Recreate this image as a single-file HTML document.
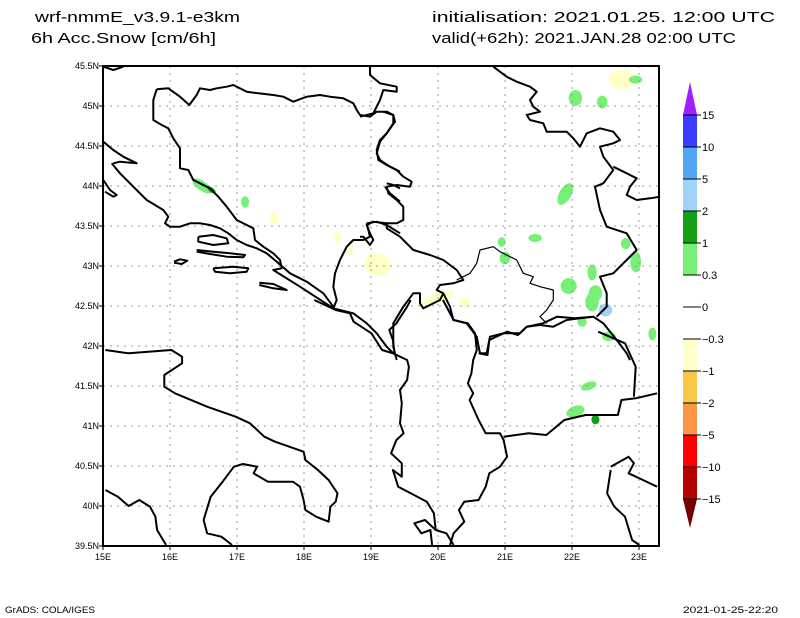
<!DOCTYPE html>
<html><head><meta charset="utf-8"><style>
html,body{margin:0;padding:0;background:#fff;}
svg{display:block;font-family:"Liberation Sans",sans-serif;}
</style></head><body>
<svg id="chart" width="800" height="618" viewBox="0 0 800 618" xmlns="http://www.w3.org/2000/svg">
<rect width="800" height="618" fill="#fff"/>
<g font-size="15" fill="#000">
<text x="35" y="22" textLength="205" lengthAdjust="spacingAndGlyphs">wrf-nmmE_v3.9.1-e3km</text>
<text x="31" y="43" textLength="185" lengthAdjust="spacingAndGlyphs">6h Acc.Snow [cm/6h]</text>
<text x="432" y="22" textLength="343" lengthAdjust="spacingAndGlyphs">initialisation: 2021.01.25.  12:00 UTC</text>
<text x="432" y="43" textLength="304" lengthAdjust="spacingAndGlyphs">valid(+62h): 2021.JAN.28 02:00 UTC</text>
</g>
<g id="blobs"></g>
<g id="grid"></g>
<g id="coast" fill="none" stroke="#000" stroke-width="2" stroke-linejoin="round"></g>
<rect x="103" y="66" width="556" height="480" fill="none" stroke="#000" stroke-width="2"/>
<g id="axes" font-size="9" fill="#000"></g>
<g id="cbar"></g>
<text x="5" y="613" font-size="9" textLength="90" lengthAdjust="spacingAndGlyphs">GrADS: COLA/IGES</text>
<text x="683" y="613" font-size="9" textLength="95" lengthAdjust="spacingAndGlyphs">2021-01-25-22:20</text>
</svg>
<script>
const lonTicks=[15,16,17,18,19,20,21,22,23];
const latTicks=[45.5,45,44.5,44,43.5,43,42.5,42,41.5,41,40.5,40,39.5];
const cbLevels=["15","10","5","2","1","0.3","0","-0.3","-1","-2","-5","-10","-15"];
const cbColors=["#3c3cff","#50a5f5","#a0d2fa","#14a014","#78f078","#ffffff","#ffffff","#ffffc8","#f5c846","#fa9646","#ff0000","#b40000"];
// snow blobs: lon, lat, rx(deg), ry(deg), rotation, value
const blobLon=[16.48,16.62,17.12,17.55,18.5,18.7,19.1,20.0,20.4,20.95,21.45,22.05,22.45,22.75,22.95,21.9,21.0,22.3,22.8,22.95,21.95,22.35,22.3,22.5,22.15,22.55,23.2,22.25,22.05,22.35];
const blobLat=[44.0,43.95,43.8,43.6,43.35,43.2,43.02,42.6,42.55,43.3,43.35,45.1,45.05,45.33,45.33,43.9,43.1,42.92,43.28,43.05,42.75,42.66,42.55,42.45,42.3,42.12,42.15,41.5,41.18,41.08];
const blobRx=[0.17,0.07,0.06,0.07,0.06,0.05,0.2,0.25,0.08,0.06,0.1,0.1,0.08,0.2,0.1,0.09,0.08,0.07,0.07,0.08,0.12,0.1,0.1,0.1,0.07,0.1,0.06,0.12,0.14,0.06];
const blobRy=[0.06,0.03,0.07,0.08,0.07,0.06,0.14,0.07,0.06,0.06,0.05,0.1,0.08,0.12,0.05,0.15,0.08,0.1,0.07,0.13,0.1,0.1,0.12,0.08,0.06,0.06,0.08,0.05,0.07,0.06];
const blobRot=[35,35,0,0,0,0,20,-20,0,0,0,0,0,0,0,30,0,0,0,0,0,0,0,0,0,0,0,-20,-20,0];
const blobVal=[0.5,1.5,0.5,-0.5,-0.5,-0.5,-0.5,-0.5,-0.5,0.5,0.5,0.5,0.5,-0.5,0.5,0.5,0.5,0.5,0.5,0.5,0.5,0.5,0.5,3,0.5,0.5,0.5,0.5,0.5,1.5];
const NS="http://www.w3.org/2000/svg";
const X0=103,Y0=66;
function xs(lon){return X0+(lon-15)*67;}
function ys(lat){return Y0+(45.5-lat)*80;}
function colorFor(v){
  if(v>=10)return cbColors[0]; if(v>=5)return cbColors[1]; if(v>=2)return cbColors[2];
  if(v>=1)return cbColors[3]; if(v>=0.3)return cbColors[4]; if(v>-0.3)return "#fff";
  if(v>-1)return cbColors[7]; if(v>-2)return cbColors[8]; if(v>-5)return cbColors[9];
  if(v>-10)return cbColors[10]; return cbColors[11];
}
function mk(tag,attrs,parent){const e=document.createElementNS(NS,tag);for(const k in attrs)e.setAttribute(k,attrs[k]);parent.appendChild(e);return e;}
// grid
const grid=document.getElementById('grid');
lonTicks.slice(1).forEach(l=>{const e=mk('line',{x1:xs(l),x2:xs(l),y1:Y0,y2:546,stroke:'#999','stroke-dasharray':'2,5','stroke-width':1},grid);

});
latTicks.slice(1,-1).forEach(l=>{const e=mk('line',{x1:X0,x2:659,y1:ys(l),y2:ys(l),stroke:'#999','stroke-dasharray':'2,5','stroke-width':1},grid);

});
// axes
const axes=document.getElementById('axes');
lonTicks.forEach(l=>{const t=mk('text',{x:xs(l),y:560,'text-anchor':'middle'},axes);t.textContent=l+'E';


const tk=mk('line',{x1:xs(l),x2:xs(l),y1:546,y2:550,stroke:'#000'},axes);

});
latTicks.forEach(l=>{const t=mk('text',{x:99,y:ys(l)+3,'text-anchor':'end'},axes);t.textContent=l+'N';


const tk=mk('line',{x1:99,x2:103,y1:ys(l),y2:ys(l),stroke:'#000'},axes);

});
// blobs
const bl=document.getElementById('blobs');
blobLon.forEach((lon,i)=>{const cx=xs(lon),cy=ys(blobLat[i]);
const e=mk('ellipse',{cx:cx,cy:cy,rx:blobRx[i]*67,ry:blobRy[i]*80,fill:colorFor(blobVal[i]),transform:`rotate(${blobRot[i]} ${cx} ${cy})`},bl);

});
// coastlines (traced shapes)
const coast=document.getElementById('coast');
function poly(ox,oy,sx,sy,pts,w,nm){let s='';for(let i=0;i<pts.length;i+=2)s+=(ox+pts[i]/sx).toFixed(1)+','+(oy+pts[i+1]/sy).toFixed(1)+' ';
const e=mk('polyline',{points:s},coast);if(w)e.setAttribute('stroke-width',w);

}
// zoom2 region (100,60,3x)
const A=[100,60,3,3];
poly(...A,[10,20,40,30,70,20],0,'coastline');
poly(...A,[170,88,205,85,240,110,268,135,290,105,300,85,330,90,350,85,380,80,400,75,440,95,475,100,520,105,550,110,580,125,620,110,660,105,690,110,730,115,760,130,770,150,780,165,810,170,830,155,860,155,880,165,880,190,860,220,840,245,830,280,840,300,870,320,900,335],0,'border');
poly(...A,[170,88,160,120,160,180,185,195,205,205,220,235,240,265,240,325,265,330,280,360,300,370,330,385,355,410,380,440,410,480,440,495,460,505,465,540,490,560,520,580,540,600,545,625,520,630,600,680,700,745,760,760,800,790,830,820,860,860,880,880],0,'border');
poly(...A,[10,245,40,270,70,290,110,310,60,305,40,310],0,'coastline');
poly(...A,[35,310,60,340,100,380,140,420,190,450,205,470,195,490,210,500,240,500,270,490,300,490,330,495,360,505,385,520,410,540,440,555,470,565,500,580,530,605,570,640,620,665,670,700,700,740],0,'coastline');
poly(...A,[10,360,30,390,50,405,40,410,15,395],0,'coastline');
poly(...A,[295,530,340,525,380,535,385,550,340,555,295,545,295,530],0,'island');
poly(...A,[290,570,340,575,390,580,435,585,430,592,380,590,330,582,290,575],0,'island');
poly(...A,[222,605,240,598,262,602,245,612,222,608],0,'island');
poly(...A,[340,625,400,620,445,625,440,635,390,640,345,635,340,625],0,'island');
poly(...A,[478,668,520,672,560,690,520,685,478,675],0,'island');
poly(...A,[800,490,830,485,860,495,900,520],0,'border');
poly(...A,[800,490,810,530,790,540,760,540,740,560,720,600,705,640,700,680,710,720,700,745],0,'border');
poly(...A,[860,370,880,375,900,385],0,'border');
poly(...A,[855,380,870,400,900,425],0,'border');
// zoom3 region (360,60,3x)
const B=[360,60,3,3];
poly(...B,[30,20,30,45,60,70,110,80,110,95,70,90,60,120,40,160,0,170],0,'border');
poly(...B,[70,155,100,165,105,185,80,220,60,240,50,270,55,300,80,315,110,330,130,350,155,365,150,380,110,375,80,380,85,400,110,420,130,440,130,480,110,490,80,490,40,485,20,495,30,520,40,540,30,555,10,530,0,530],0,'border');
poly(...B,[80,490,80,505,120,530,160,570,210,585,250,600,290,630,310,660,280,670,240,675,230,690,250,700,240,720,210,735,190,745,180,730,180,700,160,700,130,740,100,790,100,860,110,900],0,'border');
poly(...B,[290,660,330,640,350,610,360,570,400,560,420,575,440,585,470,600,490,640,520,650,510,670,540,680,580,690,580,720,560,750,540,770,560,790],1.2,'kosovo-border');
poly(...B,[250,700,270,740,280,780,320,790,350,830,360,880,380,880,390,830,430,820,480,820,500,800,540,795,580,800,620,780,660,775,700,770,730,790,770,840,800,880,810,900],0,'border');
poly(...B,[710,770,740,740,740,700,720,650,760,640,790,610,830,570,800,520,740,500,720,450,705,380,730,370,760,330,730,290,720,260,760,250,780,240,760,215,720,205,680,220,660,260,640,235,620,215,560,215,550,190,510,180,500,165,540,155,520,140,510,120,530,95,510,80,470,65,440,50,420,35,400,20],0,'border');
poly(...B,[760,320,800,340,830,355,810,380,800,405,830,420,870,415,900,410],0,'border');
// zoom4 region (100,300, 2.8x/3y)
const C=[100,300,2.8,3];
poly(...C,[15,150,80,160,200,150,230,170,230,190,180,225,180,260,210,280,300,320,380,350,420,370,460,410,490,425,570,455,575,480,610,510,640,540,665,580,660,605,645,620,640,665,605,650,575,630,570,600,560,560,540,545,470,545,430,520,440,500,400,492,375,500,340,550,310,590,290,660,300,700,340,710,370,735],0,'coastline');
poly(...C,[15,570,50,590,80,618,110,600,140,620,155,650,160,690,185,735],0,'coastline');
poly(...C,[600,0,660,30,700,40,710,65,760,100,790,150,820,160,860,180,865,200,860,240,840,270,845,310,840,370,850,400,830,420,815,460,845,490,845,530,820,510,835,560,870,580,915,605,935,640,940,690,970,700,990,735],0,'coastline');
poly(...C,[825,160,820,120,810,90,830,70,860,20,870,0],0,'border');
poly(...C,[960,0,990,60,1030,70,1050,100,1055,150,1045,180,1040,220,1030,250,1045,280,1035,300,1060,360,1080,400,1120,400,1130,420,1140,470,1120,500,1090,520,1080,560,1060,600,1020,605,1005,630,1020,665,990,700,980,735],0,'border');
poly(...C,[1060,160,1085,165,1090,120,1140,95,1170,105,1195,80,1240,70,1280,50,1330,55,1380,50],0,'border');
poly(...C,[1130,410,1200,400,1250,405,1300,360,1360,345,1450,345,1460,300,1500,295,1560,280],0,'border');
poly(...C,[1395,95,1470,130,1500,200,1495,290],0,'border');
poly(...C,[1430,500,1480,470,1495,490,1480,520,1520,540,1560,560],0,'coastline');
poly(...C,[1430,510,1420,580,1440,620,1470,650,1490,720,1510,735],0,'coastline');
poly(...C,[930,735,925,690,900,700,880,670,910,660,940,690],0,'coastline');
// colorbar
const cb=document.getElementById('cbar');
const cbX=683,cbW=14,cbTop=115,seg=32;
const tri1=mk('polygon',{points:`${cbX},${cbTop} ${cbX+cbW},${cbTop} ${cbX+cbW/2},82`,fill:'#a01eff'},cb);


cbColors.forEach((c,i)=>{const r=mk('rect',{x:cbX,y:cbTop+i*seg,width:cbW,height:seg,fill:c},cb);

});
const yEnd=cbTop+cbColors.length*seg;
const tri2=mk('polygon',{points:`${cbX},${yEnd} ${cbX+cbW},${yEnd} ${cbX+cbW/2},528`,fill:'#780000'},cb);


cbLevels.forEach((l,i)=>{const y=cbTop+i*seg;
const ln=mk('line',{x1:cbX,x2:cbX+cbW+4,y1:y,y2:y,stroke:'#000','stroke-width':1},cb);


const t=mk('text',{x:702,y:y+4,'font-size':11},cb);t.textContent=l.replace('-','\u2212');

});
</script>
</body></html>
